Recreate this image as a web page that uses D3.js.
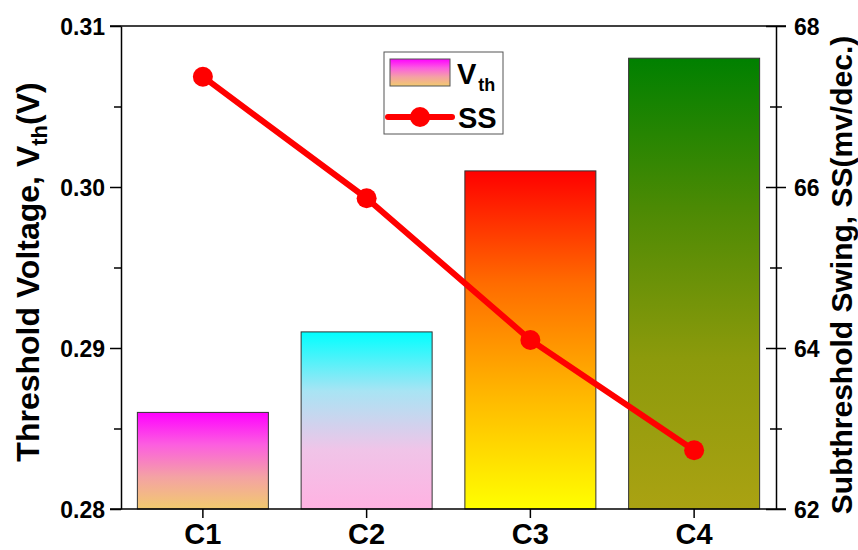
<!DOCTYPE html>
<html><head><meta charset="utf-8">
<script src="https://cdn.jsdelivr.net/npm/d3@7"></script>
<style>body{margin:0;background:#fff}svg{display:block}text{font-family:"Liberation Sans",Arial,sans-serif;font-weight:bold}</style>
</head><body><svg id="c" width="858" height="550"></svg>
<script>
const categories = ["C1","C2","C3","C4"];
const vthValues = [0.286, 0.291, 0.301, 0.308];
const ssValues = [67.37, 65.86, 64.10, 62.73];
const leftTicks = [0.28, 0.29, 0.30, 0.31];
const rightTicks = [62, 64, 66, 68];
const barGradients = [
  ["#ff00ff","#fc5ee0","#f4a2a4","#f2ca6e"],
  ["#00ffff","#a8e4f4","#f0c4e8","#ffb2e2"],
  ["#ff0000","#ff6c00","#ffb800","#ffff00"],
  ["#008000","#4c8a04","#8c9a0c","#aaa212"]];

const svg = d3.select("#c");
const m = {l:121, r:776, t:26, b:509};
const x = d3.scaleBand().domain(categories).range([m.l, m.r]).paddingInner(0.2).paddingOuter(0.1);
const yL = d3.scaleLinear().domain([0.28, 0.31]).range([m.b, m.t]);
const yR = d3.scaleLinear().domain([62, 68]).range([m.b, m.t]);

const defs = svg.append("defs");
function addGrad(id, g){
  const lg = defs.append("linearGradient").attr("id",id).attr("x1",0).attr("y1",0).attr("x2",0).attr("y2",1);
  g.forEach((c,k)=>lg.append("stop").attr("offset",(k/(g.length-1)*100)+"%").attr("stop-color",c));
}
barGradients.forEach((g,i)=>addGrad("g"+i,g));
addGrad("leg", barGradients[0]);

// bars
svg.selectAll("rect.bar").data(categories).enter().append("rect")
  .attr("x", d=>x(d)).attr("width", x.bandwidth())
  .attr("y", (d,i)=>yL(vthValues[i])).attr("height", (d,i)=>m.b - yL(vthValues[i]))
  .attr("fill",(d,i)=>"url(#g"+i+")").attr("stroke","#333").attr("stroke-width",1);

// frame: top line
svg.append("line").attr("x1",110).attr("x2",786).attr("y1",m.t).attr("y2",m.t).attr("stroke","#000").attr("stroke-width",1.5);

// left axis
const gl = svg.append("g").attr("transform",`translate(${m.l},0)`)
  .call(d3.axisLeft(yL).tickValues(leftTicks).tickFormat(d3.format(".2f")).tickSize(11).tickSizeOuter(0));
svg.append("g").attr("transform",`translate(${m.l},0)`)
  .call(d3.axisLeft(yL).tickValues([0.285,0.295,0.305]).tickFormat("").tickSize(7).tickSizeOuter(0))
  .select(".domain").remove();
// right axis
const gr = svg.append("g").attr("transform",`translate(${m.r},0)`)
  .call(d3.axisRight(yR).tickValues(rightTicks).tickFormat(d3.format("d")).tickSize(10).tickSizeOuter(0));
gr.selectAll(".tick line").attr("x1",-10);
const grm = svg.append("g").attr("transform",`translate(${m.r},0)`)
  .call(d3.axisRight(yR).tickValues([63,65,67]).tickFormat("").tickSize(6).tickSizeOuter(0));
grm.select(".domain").remove();
grm.selectAll(".tick line").attr("x1",-6);
// bottom axis
const gb = svg.append("g").attr("transform",`translate(0,${m.b})`)
  .call(d3.axisBottom(x).tickSize(9).tickSizeOuter(0));
gb.select(".domain").attr("d",`M110,0H786`);

svg.selectAll(".domain, .tick line").attr("stroke","#000").attr("stroke-width",1.5);
gl.selectAll(".tick text").attr("font-size",23).attr("x",-16).attr("dy","0.35em");
gr.selectAll(".tick text").attr("font-size",23).attr("x",18).attr("dy","0.35em");
gb.selectAll(".tick text").attr("font-size",29).attr("y",14).attr("dy","0.71em");
svg.selectAll(".tick text").attr("fill","#000").attr("font-family","Liberation Sans, Arial, sans-serif").attr("font-weight","bold");

// SS line
const line = d3.line().x((d,i)=>x(categories[i])+x.bandwidth()/2).y(d=>yR(d));
svg.append("path").datum(ssValues).attr("d",line).attr("fill","none").attr("stroke","#ff0000").attr("stroke-width",6).attr("stroke-linejoin","round");
svg.selectAll("circle.pt").data(ssValues).enter().append("circle")
  .attr("cx",(d,i)=>x(categories[i])+x.bandwidth()/2).attr("cy",d=>yR(d)).attr("r",10).attr("fill","#ff0000");

// axis titles
const tl = svg.append("text").attr("transform","translate(39,272) rotate(-90)").attr("text-anchor","middle").attr("font-size",32);
tl.append("tspan").text("Threshold Voltage, V");
tl.append("tspan").text("th").attr("font-size",22).attr("dy",8);
tl.append("tspan").text("(V)").attr("dy",-8);
svg.append("text").attr("transform","translate(852,275) rotate(-90)").attr("text-anchor","middle").attr("font-size",30)
  .text("Subthreshold Swing, SS(mv/dec.)");

// legend
const lgG = svg.append("g");
lgG.append("rect").attr("x",384).attr("y",52).attr("width",119).attr("height",82).attr("fill","#fff").attr("stroke","#555").attr("stroke-width",1);
lgG.append("rect").attr("x",390).attr("y",59).attr("width",60).attr("height",27).attr("fill","url(#leg)").attr("stroke","#555").attr("stroke-width",1);
const lt = lgG.append("text").attr("x",457).attr("y",84).attr("font-size",29);
lt.append("tspan").text("V");
lt.append("tspan").text("th").attr("font-size",18).attr("dy",7).attr("dx",2);
lgG.append("line").attr("x1",388).attr("x2",452).attr("y1",117).attr("y2",117).attr("stroke","#ff0000").attr("stroke-width",6).attr("stroke-linecap","round");
lgG.append("circle").attr("cx",420).attr("cy",117).attr("r",10).attr("fill","#ff0000");
lgG.append("text").attr("x",458).attr("y",128).attr("font-size",29).text("SS");
</script></body></html>
